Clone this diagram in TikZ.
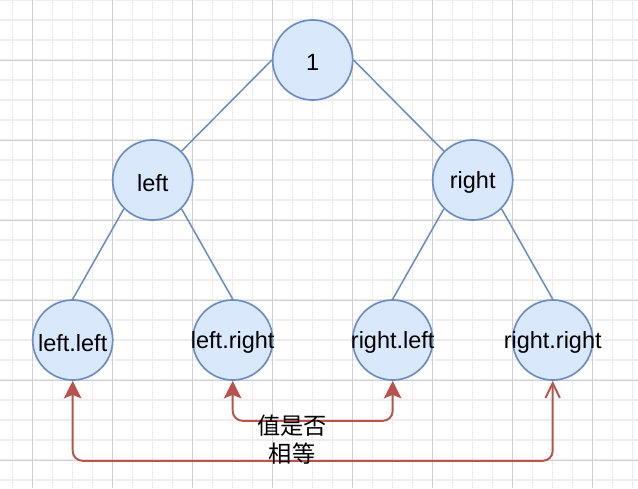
\documentclass[tikz,border=0pt]{standalone}
\usepackage{fontspec}
\setmainfont{Liberation Sans}
\newfontfamily\cjkfont{Noto Sans CJK SC}
\usetikzlibrary{arrows.meta}

\definecolor{nodeblue}{HTML}{6C8EBF}
\definecolor{nodefill}{HTML}{DAE8FC}
\definecolor{cmpred}{HTML}{B85450}
\definecolor{gridminor}{HTML}{EDEDED}
\definecolor{gridmajor}{HTML}{D0D0D0}

\tikzset{
  treenode/.style={circle, draw=nodeblue, fill=nodefill, line width=1.2pt,
    minimum size=2cm, inner sep=0pt},
  treeedge/.style={draw=nodeblue, line width=1.1pt},
  cmparrow/.style={draw=cmpred, line width=1.4pt, rounded corners=0.25cm},
  fulltip/.tip={Stealth[length=0.44cm, width=0.44cm, inset=0.09cm]},
  opentip/.tip={Straight Barb[length=0.37cm, width=0.36cm]},
  every label/.append style={yshift=-0.07cm},
}

\begin{document}
\begin{tikzpicture}[x=0.025cm, y=-0.025cm, font=\fontsize{16.7}{20}\selectfont]
  \useasboundingbox (0,0) rectangle (638,488);

  % Background grid (1 unit = 1px, y grows downwards)
  \foreach \x in {12.7,32.7,...,638} \draw[gridminor, line width=0.8pt] (\x,0) -- (\x,488);
  \foreach \y in {0,20,...,488} \draw[gridminor, line width=0.8pt] (0,\y) -- (638,\y);
  \foreach \x in {32.7,112.7,...,638} \draw[gridmajor, line width=0.6pt] (\x,0) -- (\x,488);
  \foreach \y in {60,140,...,488} \draw[gridmajor, line width=0.6pt] (0,\y) -- (638,\y);

  % Tree levels
  \def\rowa{60}
  \def\rowb{180}
  \def\rowc{340}

  % Nodes
  \node[treenode, label={center:1}] (root) at (312.7,\rowa) {};
  \node[treenode, label={center:left}] (l) at (152.7,\rowb) {};
  \node[treenode, label={center:right}] (r) at (472.7,\rowb) {};
  \node[treenode, label={center:left.left}] (ll) at (72.7,\rowc) {};
  \node[treenode, label={center:left.right}] (lr) at (232.7,\rowc) {};
  \node[treenode, label={center:right.left}] (rl) at (392.7,\rowc) {};
  \node[treenode, label={center:right.right}] (rr) at (552.7,\rowc) {};

  % Tree edges
  \draw[treeedge] (root.180) -- (l.45);
  \draw[treeedge] (root.0) -- (r.135);
  \draw[treeedge] (l.225) -- (ll.90);
  \draw[treeedge] (l.315) -- (lr.90);
  \draw[treeedge] (r.225) -- (rl.90);
  \draw[treeedge] (r.315) -- (rr.90);

  % Comparison arrows
  \draw[cmparrow, fulltip-fulltip] (lr.south) -- ++(0,40) -| (rl.south);
  \draw[cmparrow, fulltip-opentip] (ll.south) -- ++(0,80) -| (rr.south);

  % Label
  \node[font=\cjkfont\fontsize{16.5}{19.9}\selectfont, align=center] (cmp) at (292,440) {值是否\\相等};
\end{tikzpicture}
\end{document}
